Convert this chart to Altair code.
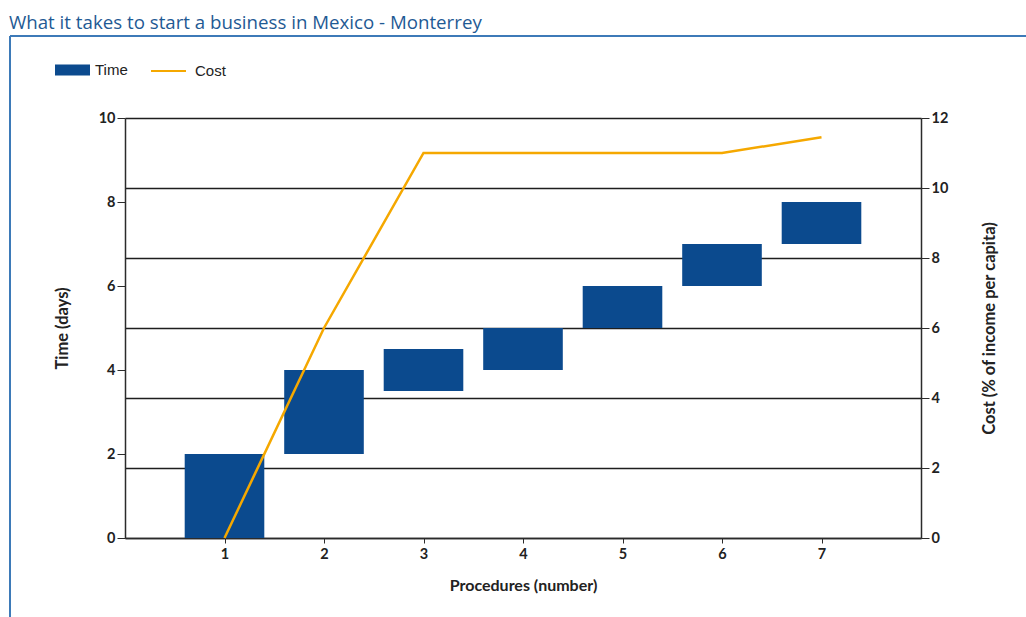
import altair as alt
import pandas as pd

procedures = [1, 2, 3, 4, 5, 6, 7]
time_start = [0, 2, 3.5, 4, 5, 6, 7]
time_end = [2, 4, 4.5, 5, 6, 7, 8]
cost = [0, 6, 11, 11, 11, 11, 11.45]

title_text = "What it takes to start a business in Mexico - Monterrey"

BLUE = "#0b4a8e"
ORANGE = "#f5a800"
FRAME = "#3d7ab8"
AX = "#2b2b2b"

df = pd.DataFrame({
    "procedure": procedures,
    "t0": time_start,
    "t1": time_end,
    "cost": cost,
    "s_time": ["Time"] * len(procedures),
    "s_cost": ["Cost"] * len(procedures),
})

xscale = alt.Scale(domain=[0, 8], nice=False, zero=False)
xaxis = alt.Axis(
    values=procedures, title="Procedures (number)", grid=False,
    labelFont="Lato", labelFontWeight="bold", labelFontSize=14.5, labelColor="#222",
    titleFont="Lato", titleFontWeight="bold", titleFontSize=16, titleColor="#222",
    titlePadding=17, tickSize=5, tickColor=AX, domainColor=AX, domainWidth=1.5,
    labelPadding=4,
)

bars = alt.Chart(df).transform_calculate(
    xa="datum.procedure - 0.4", xb="datum.procedure + 0.4"
).mark_bar(opacity=1).encode(
    x=alt.X("xa:Q", scale=xscale, axis=xaxis),
    x2="xb:Q",
    y=alt.Y("t0:Q", scale=alt.Scale(domain=[0, 10], nice=False),
            axis=alt.Axis(values=[0, 2, 4, 6, 8, 10], title="Time (days)", grid=False,
                          labelFont="Lato", labelFontWeight="bold", labelFontSize=14.5,
                          labelColor="#222", titleFont="Lato", titleFontWeight="bold",
                          titleFontSize=16.5, titleColor="#222", tickSize=8, tickColor=AX,
                          domainColor=AX, domainWidth=1.5, labelPadding=2, titlePadding=28)),
    y2="t1:Q",
    fill=alt.Fill("s_time:N", scale=alt.Scale(domain=["Time"], range=[BLUE]),
                  legend=alt.Legend(orient="none", legendX=-70, legendY=-65.5, title=None,
                                    padding=0, symbolType="M-1,-0.31H1V0.31H-1Z",
                                    symbolSize=1225, symbolStrokeWidth=0,
                                    labelFont="Liberation Sans", labelFontSize=15,
                                    labelColor="#222", labelOffset=5)),
)

line = alt.Chart(df).mark_line(strokeWidth=2.5, interpolate="linear").encode(
    x=alt.X("procedure:Q", scale=xscale, axis=xaxis),
    y=alt.Y("cost:Q", scale=alt.Scale(domain=[0, 12], nice=False),
            axis=alt.Axis(orient="right", values=[0, 2, 4, 6, 8, 10, 12],
                          title="Cost (% of income per capita)", titleAngle=270,
                          grid=True, gridColor="#1e1e1e", gridWidth=1.5,
                          labelFont="Lato", labelFontWeight="bold", labelFontSize=14.5,
                          labelColor="#222", titleFont="Lato", titleFontWeight="bold",
                          titleFontSize=16.5, titleColor="#222", tickSize=8, tickColor=AX,
                          domainColor=AX, domainWidth=1.5, labelPadding=2, titlePadding=50)),
    stroke=alt.Stroke("s_cost:N", scale=alt.Scale(domain=["Cost"], range=[ORANGE]),
                      legend=alt.Legend(orient="none", legendX=25, legendY=-65.5, title=None,
                                        padding=0, symbolType="stroke", symbolSize=1225,
                                        symbolStrokeWidth=2,
                                        labelFont="Liberation Sans", labelFontSize=15,
                                        labelColor="#222", labelOffset=8)),
)

one = pd.DataFrame({"k": [0]})
frame_top = alt.Chart(one).mark_rule(color=FRAME, strokeWidth=2).encode(
    x=alt.value(-115), x2=alt.value(905), y=alt.value(-82))
frame_left = alt.Chart(one).mark_rule(color=FRAME, strokeWidth=2).encode(
    x=alt.value(-115), y=alt.value(-82), y2=alt.value(499))
title = alt.Chart(one).mark_text(
    align="left", baseline="alphabetic", font="Open Sans", fontSize=18.7, color="#1f5a94"
).encode(x=alt.value(-116), y=alt.value(-89), text=alt.value(title_text))

chart = alt.layer(bars, line, frame_top, frame_left, title).resolve_scale(
    y="independent", fill="independent", stroke="independent"
).properties(
    width=796, height=420,
    autosize=alt.AutoSizeParams(type="none"),
    padding={"left": 125, "top": 118, "right": 105, "bottom": 79},
    background="white",
).configure_view(stroke=None)

chart.save("out.html", embed_options={"renderer": "svg", "actions": False})
